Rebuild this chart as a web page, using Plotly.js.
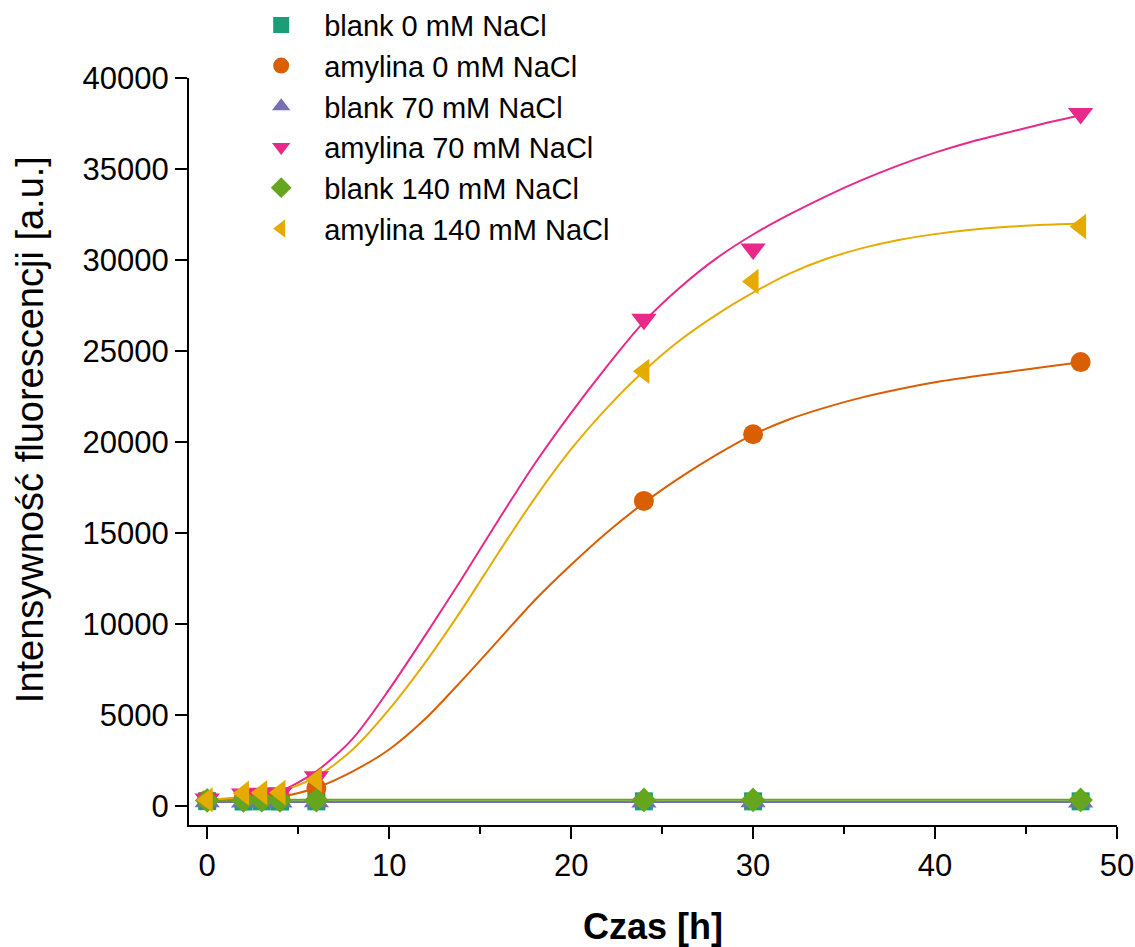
<!DOCTYPE html>
<html><head><meta charset="utf-8">
<script src="https://cdn.plot.ly/plotly-3.0.1.min.js"></script>
<style>html,body{margin:0;padding:0;background:#fff}#chart{width:1135px;height:947px}</style>
</head><body><div id="chart"></div>
<script>
// Measured data points
const time = [0, 2, 3, 4, 6, 24, 30, 48];
const blank0 = [260, 240, 250, 240, 250, 250, 250, 250];
const amylina0 = [330, 380, 420, 480, 980, 16760, 20420, 24390];
const blank70 = [230, 220, 230, 220, 230, 220, 230, 220];
const amylina70 = [380, 650, 700, 720, 1600, 26740, 30600, 38050];
const blank140 = [300, 300, 310, 300, 310, 330, 330, 330];
const amylina140 = [330, 700, 720, 740, 1430, 23880, 28820, 31840];

// Fitted curves
const fitTime = [0, 2, 4, 6, 8, 10, 12, 14, 16, 18, 20, 22, 24, 26, 28, 30, 32, 34, 36, 38, 40, 42, 44, 46, 48];
const fitAmylina0 = [300, 330, 500, 1000, 1900, 3100, 4800, 6900, 9100, 11300, 13250, 15050, 16650, 18050, 19300, 20400, 21250, 21900, 22450, 22900, 23280, 23580, 23850, 24120, 24380];
const fitAmylina70 = [350, 430, 800, 1900, 3700, 6400, 9400, 12500, 15700, 18800, 21600, 24200, 26600, 28500, 30100, 31400, 32500, 33500, 34400, 35200, 35900, 36500, 37000, 37500, 37950];
const fitAmylina140 = [330, 500, 800, 1600, 3100, 5300, 7900, 10800, 13900, 16900, 19600, 21900, 23900, 25600, 27000, 28200, 29250, 30050, 30650, 31100, 31420, 31660, 31820, 31930, 32000];
const fitBlankTime = [0, 48];
const fitBlank0 = [230, 230];
const fitBlank70 = [220, 220];
const fitBlank140 = [340, 340];

const names = ['blank 0 mM NaCl', 'amylina 0 mM NaCl', 'blank 70 mM NaCl', 'amylina 70 mM NaCl', 'blank 140 mM NaCl', 'amylina 140 mM NaCl'];
const colors = ['#1B9E77', '#D95F02', '#7570B3', '#E7298A', '#66A61E', '#E6AB02'];
const symbols = ['square', 'circle', 'triangle-up', 'triangle-down', 'diamond', 'triangle-left'];
const sizes = [18, 20, 22, 22, 19, 22];
const pointSeries = [blank0, amylina0, blank70, amylina70, blank140, amylina140];
const fitSeries = [
  [fitBlankTime, fitBlank0], [fitTime, fitAmylina0], [fitBlankTime, fitBlank70],
  [fitTime, fitAmylina70], [fitBlankTime, fitBlank140], [fitTime, fitAmylina140]
];

const traces = [];
fitSeries.forEach((f, i) => {
  traces.push({
    x: f[0], y: f[1], type: 'scatter', mode: 'lines', showlegend: false, hoverinfo: 'skip',
    line: {color: colors[i], width: 2, shape: 'spline', smoothing: 0.8}
  });
});
pointSeries.forEach((s, i) => {
  traces.push({
    x: time, y: s, type: 'scatter', mode: 'markers', name: names[i],
    marker: {symbol: symbols[i], color: colors[i], size: sizes[i], line: {width: 0}}
  });
});

const font = 'Liberation Sans, Arial, sans-serif';
const layout = {
  width: 1135, height: 947,
  paper_bgcolor: '#fff', plot_bgcolor: '#fff',
  margin: {l: 189, r: 18, t: 78, b: 122, autoexpand: false},
  font: {family: font, color: '#000', size: 31},
  showlegend: true,
  legend: {x: 0.053, y: 1.105, xanchor: 'left', yanchor: 'top', bgcolor: 'rgba(0,0,0,0)',
           font: {family: font, size: 29, color: '#000'}, itemsizing: 'trace', itemwidth: 76},
  xaxis: {
    range: [-1, 50], showline: true, linecolor: '#000', linewidth: 2,
    ticks: 'outside', ticklen: 12, tickwidth: 2, tickcolor: '#000', dtick: 10, tick0: 0,
    minor: {ticks: 'outside', ticklen: 7, tickwidth: 2, tickcolor: '#000', dtick: 5, showgrid: false},
    showgrid: false, zeroline: false,
    tickfont: {family: font, size: 31, color: '#000'},
    title: {text: '<b>Czas [h]</b>', font: {family: font, size: 36, color: '#000'}, standoff: 38}
  },
  yaxis: {
    range: [-1050, 40000], showline: true, linecolor: '#000', linewidth: 2,
    ticks: 'outside', ticklen: 12, tickwidth: 2, tickcolor: '#000', dtick: 5000, tick0: 0,
    tickformat: 'd', showgrid: false, zeroline: false,
    tickfont: {family: font, size: 31, color: '#000'}
  },
  annotations: [{
    text: 'Intensywność fluorescencji [a.u.]', textangle: -90, showarrow: false,
    xref: 'paper', yref: 'paper', x: -0.171, y: 0.529, xanchor: 'center', yanchor: 'middle',
    font: {family: font, size: 38, color: '#000'}
  }]
};

Plotly.newPlot('chart', traces, layout, {displayModeBar: false, staticPlot: true});
</script>
</body></html>
